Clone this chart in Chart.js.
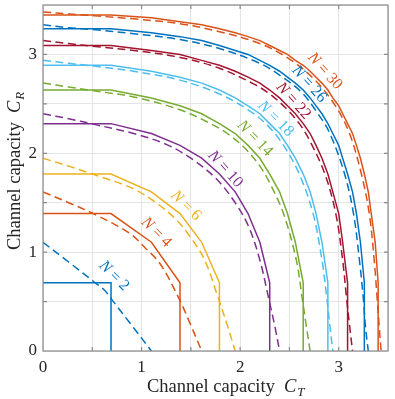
<!DOCTYPE html>
<html lang="en">
<head>
  <meta charset="UTF-8">
  <title>Channel capacity regions</title>
  <script src="https://cdn.jsdelivr.net/npm/chart.js"></script>
  <style>
    html, body { margin: 0; padding: 0; background: #fff; }
    #wrap { width: 395px; height: 399px; }
  </style>
</head>
<body>
  <div id="wrap"><canvas id="chart" width="395" height="399"></canvas></div>

  <script>
    // number of levels for each curve pair
    const nValues = [2, 4, 6, 10, 14, 18, 22, 26, 30];
    const lineColors = ['#0072BD', '#D95319', '#EDB120', '#7E2F8E', '#77AC30',
                        '#4DBEEE', '#A2142F', '#0072BD', '#D95319'];

    // solid boundaries: x of each corner.
    // the regions are symmetric, so y runs through the same list backwards
    const solid2  = [0, 0.69, 0.69];
    const solid4  = [0, 0.69, 1.10, 1.39, 1.39];
    const solid6  = [0, 0.69, 1.10, 1.39, 1.61, 1.79, 1.79];
    const solid10 = [0, 0.69, 1.10, 1.39, 1.61, 1.79, 1.95, 2.08, 2.20, 2.30, 2.30];
    const solid14 = [0, 0.69, 1.10, 1.39, 1.61, 1.79, 1.95, 2.08, 2.20, 2.30, 2.40, 2.48, 2.56, 2.64, 2.64];
    const solid18 = [0, 0.69, 1.10, 1.39, 1.61, 1.79, 1.95, 2.08, 2.20, 2.30, 2.40, 2.48, 2.56, 2.64,
                     2.71, 2.77, 2.83, 2.89, 2.89];
    const solid22 = [0, 0.69, 1.10, 1.39, 1.61, 1.79, 1.95, 2.08, 2.20, 2.30, 2.40, 2.48, 2.56, 2.64,
                     2.71, 2.77, 2.83, 2.89, 2.94, 3.00, 3.04, 3.09, 3.09];
    const solid26 = [0, 0.69, 1.10, 1.39, 1.61, 1.79, 1.95, 2.08, 2.20, 2.30, 2.40, 2.48, 2.56, 2.64,
                     2.71, 2.77, 2.83, 2.89, 2.94, 3.00, 3.04, 3.09, 3.14, 3.18, 3.22, 3.26, 3.26];
    const solid30 = [0, 0.69, 1.10, 1.39, 1.61, 1.79, 1.95, 2.08, 2.20, 2.30, 2.40, 2.48, 2.56, 2.64,
                     2.71, 2.77, 2.83, 2.89, 2.94, 3.00, 3.04, 3.09, 3.14, 3.18, 3.22, 3.26, 3.30,
                     3.33, 3.37, 3.40, 3.40];

    // dashed curves, same idea (symmetric, y = list reversed)
    const dashed2  = [0, 0.26, 0.53, 0.62, 0.69, 0.90, 1.10];
    const dashed4  = [0, 0.26, 0.53, 0.88, 1.04, 1.19, 1.38, 1.50, 1.61];
    const dashed6  = [0, 0.26, 0.53, 0.92, 1.16, 1.34, 1.49, 1.64, 1.78, 1.87, 1.95];
    const dashed10 = [0, 0.26, 0.53, 0.92, 1.25, 1.50, 1.75, 1.95, 2.09, 2.20, 2.29, 2.35, 2.40];
    const dashed14 = [0, 0.26, 0.53, 0.92, 1.39, 1.70, 1.87, 2.05, 2.20, 2.30, 2.44, 2.57, 2.63, 2.67, 2.71];
    const dashed18 = [0, 0.26, 0.53, 0.92, 1.39, 1.79, 2.08, 2.28, 2.44, 2.60, 2.74, 2.83, 2.88, 2.91, 2.94];
    const dashed22 = [0, 0.26, 0.53, 0.92, 1.39, 1.79, 2.14, 2.30, 2.46, 2.60, 2.70, 2.86, 2.97, 3.04,
                      3.08, 3.11, 3.14];
    const dashed26 = [0, 0.26, 0.53, 0.92, 1.39, 1.79, 2.20, 2.40, 2.62, 2.79, 2.91, 3.06, 3.15, 3.21,
                      3.25, 3.27, 3.30];
    const dashed30 = [0, 0.26, 0.53, 0.92, 1.39, 1.79, 2.20, 2.49, 2.75, 2.96, 3.11, 3.23, 3.31, 3.36,
                      3.39, 3.41, 3.43];

    const solidCurves = [solid2, solid4, solid6, solid10, solid14, solid18, solid22, solid26, solid30];
    const dashedCurves = [dashed2, dashed4, dashed6, dashed10, dashed14, dashed18, dashed22, dashed26, dashed30];

    // where the "N = .." labels sit (data coords) and their slant in degrees
    const labelX = [0.72, 1.15, 1.45, 1.85, 2.15, 2.36, 2.54, 2.70, 2.86];
    const labelY = [0.76, 1.20, 1.47, 1.84, 2.15, 2.35, 2.53, 2.70, 2.83];
    const labelAngle = [45, 45, 45, 48, 46, 45, 48, 48, 48];

    const serif = '"Liberation Serif", "Times New Roman", serif';
    const textColor = '#262626';

    function toPoints(xs) {
      const ys = xs.slice().reverse();
      return xs.map((x, i) => ({ x: x, y: ys[i] }));
    }

    const datasets = [];
    nValues.forEach((n, i) => {
      datasets.push({
        label: 'N = ' + n,
        data: toPoints(solidCurves[i]),
        borderColor: lineColors[i],
        borderWidth: 1.5,
        tension: 0
      });
      datasets.push({
        label: 'N = ' + n + ' bound',
        data: toPoints(dashedCurves[i]),
        borderColor: lineColors[i],
        borderWidth: 1.5,
        borderDash: [8, 4.5],
        tension: 0.35
      });
    });

    // axis titles with the math part in italics
    function drawAxisTitle(ctx, sub) {
      ctx.font = '18.5px ' + serif;
      ctx.fillText('Channel capacity', 0, 0);
      let x = ctx.measureText('Channel capacity').width + 9;
      ctx.font = 'italic 18.5px ' + serif;
      ctx.fillText('C', x, 0);
      x += ctx.measureText('C').width + 1;
      ctx.font = 'italic 13px ' + serif;
      ctx.fillText(sub, x, 4);
    }

    const decorations = {
      id: 'decorations',
      afterDraw(chart) {
        const ctx = chart.ctx;
        const a = chart.chartArea;
        const xs = chart.scales.x;
        const ys = chart.scales.y;
        ctx.save();

        // box and inward ticks
        ctx.strokeStyle = '#8a8a8a';
        ctx.lineWidth = 1.2;
        ctx.strokeRect(a.left, a.top, a.right - a.left, a.bottom - a.top);
        ctx.beginPath();
        for (let v = 0.5; v < 3.5; v += 0.5) {
          const px = xs.getPixelForValue(v);
          ctx.moveTo(px, a.bottom); ctx.lineTo(px, a.bottom - 4);
          ctx.moveTo(px, a.top); ctx.lineTo(px, a.top + 4);
          const py = ys.getPixelForValue(v);
          ctx.moveTo(a.left, py); ctx.lineTo(a.left + 4, py);
          ctx.moveTo(a.right, py); ctx.lineTo(a.right - 4, py);
        }
        ctx.stroke();

        // N labels along the curves
        ctx.textBaseline = 'middle';
        ctx.textAlign = 'left';
        nValues.forEach((n, i) => {
          const px = xs.getPixelForValue(labelX[i]);
          const py = ys.getPixelForValue(labelY[i]);
          ctx.save();
          ctx.translate(px, py);
          ctx.rotate(labelAngle[i] * Math.PI / 180);
          ctx.fillStyle = lineColors[i];
          ctx.font = 'italic 16px ' + serif;
          const wN = ctx.measureText('N').width;
          ctx.font = '16px ' + serif;
          const rest = ' = ' + n;
          const wR = ctx.measureText(rest).width;
          const start = -(wN + wR) / 2;
          ctx.font = 'italic 16px ' + serif;
          ctx.fillText('N', start, 0);
          ctx.font = '16px ' + serif;
          ctx.fillText(rest, start + wN, 0);
          ctx.restore();
        });

        // axis titles
        ctx.fillStyle = textColor;
        ctx.textBaseline = 'alphabetic';
        ctx.textAlign = 'left';
        ctx.save();
        ctx.translate(147, 392);
        drawAxisTitle(ctx, 'T');
        ctx.restore();
        ctx.save();
        ctx.translate(20, 250);
        ctx.rotate(-Math.PI / 2);
        drawAxisTitle(ctx, 'R');
        ctx.restore();

        ctx.restore();
      }
    };

    const tickLabel = v => (Number.isInteger(v) ? String(v) : '');

    new Chart(document.getElementById('chart'), {
      type: 'scatter',
      data: { datasets: datasets },
      options: {
        responsive: false,
        animation: false,
        showLine: true,
        elements: { point: { radius: 0, hoverRadius: 0 } },
        layout: { padding: { top: 5, right: 7, left: 0, bottom: 0 } },
        plugins: {
          legend: { display: false },
          tooltip: { enabled: false }
        },
        scales: {
          x: {
            type: 'linear',
            min: 0,
            max: 3.5,
            afterFit: scale => {
              scale.height = 48;
              scale.paddingLeft = 0;
              scale.paddingRight = 0;
            },
            grid: { color: '#e4e4e4', drawTicks: false },
            border: { display: false },
            ticks: {
              stepSize: 0.5,
              autoSkip: false,
              maxRotation: 0,
              padding: 6,
              color: textColor,
              font: { family: serif, size: 17 },
              callback: tickLabel
            }
          },
          y: {
            type: 'linear',
            min: 0,
            max: 3.5,
            afterFit: scale => {
              scale.width = 43;
              scale.paddingTop = 0;
              scale.paddingBottom = 0;
            },
            grid: { color: '#e4e4e4', drawTicks: false },
            border: { display: false },
            ticks: {
              stepSize: 0.5,
              autoSkip: false,
              padding: 6,
              color: textColor,
              font: { family: serif, size: 17 },
              callback: tickLabel
            }
          }
        }
      },
      plugins: [decorations]
    });
  </script>
</body>
</html>
